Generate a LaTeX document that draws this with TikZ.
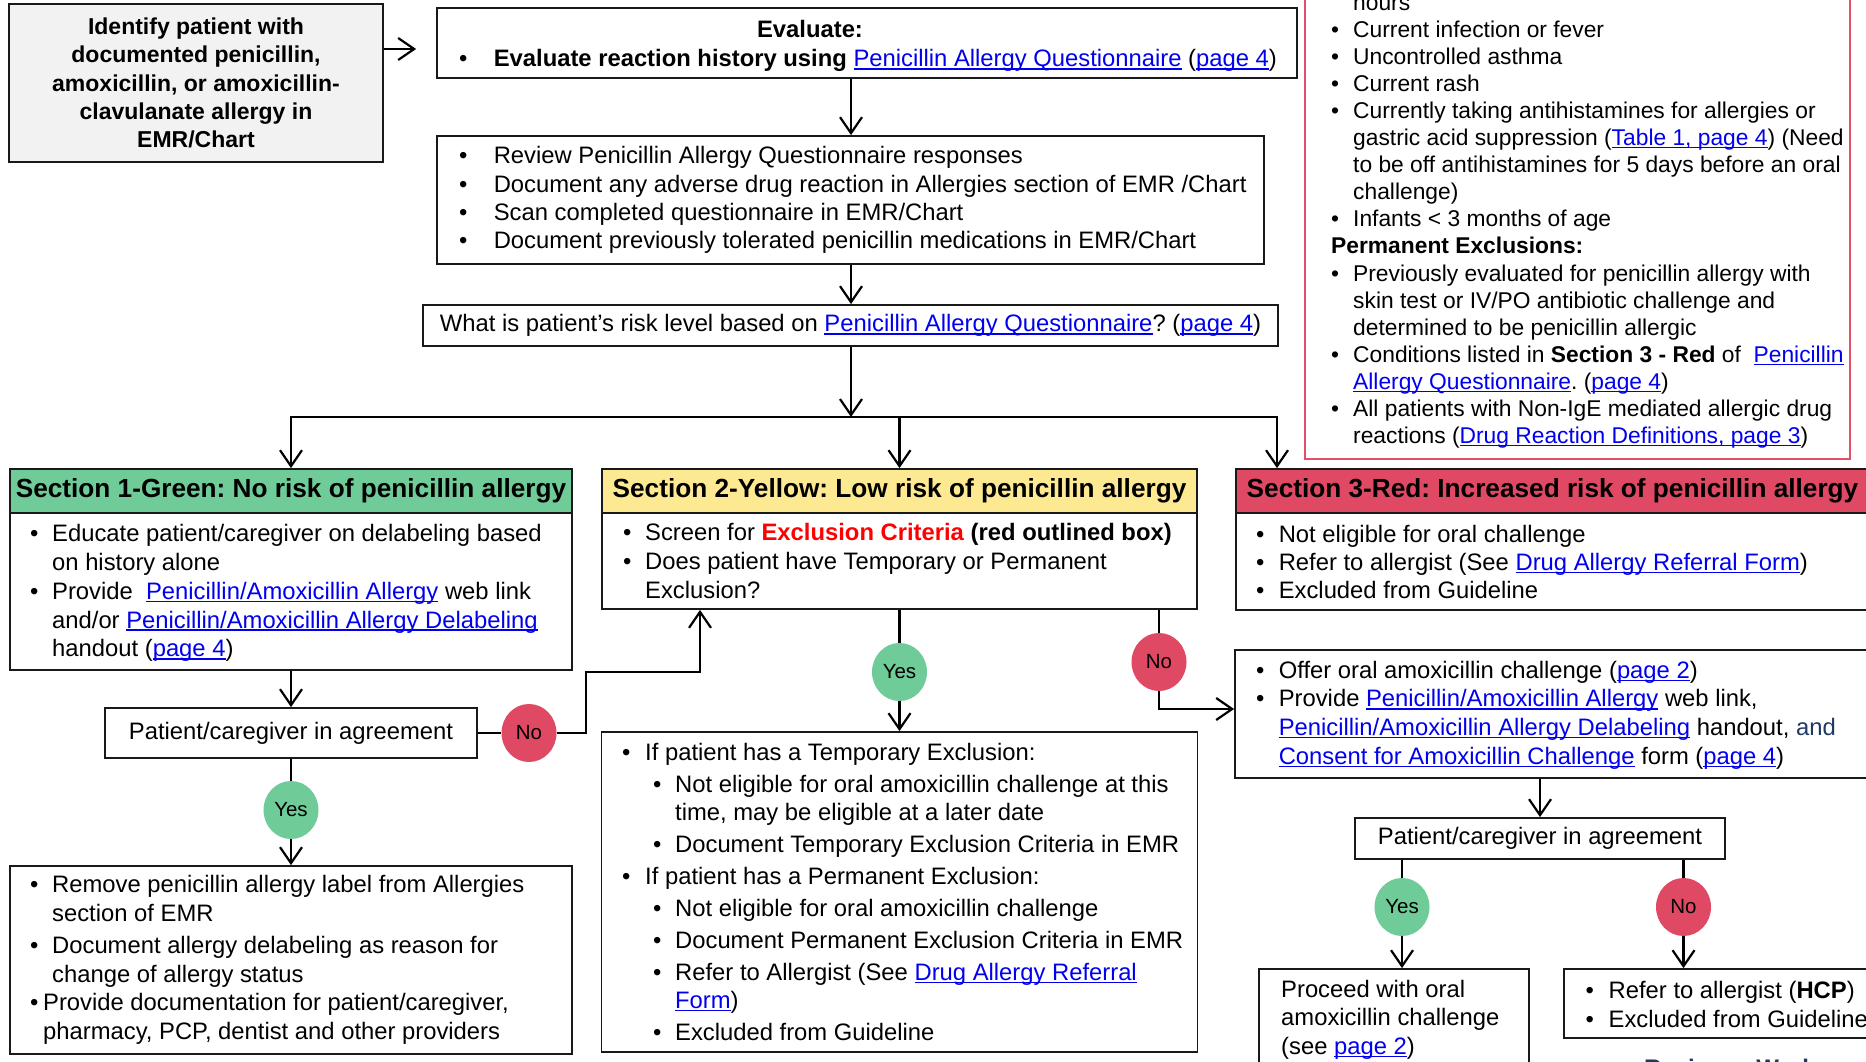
\documentclass[tikz,border=0pt]{standalone}
\usepackage{fontspec}
\setmainfont{Liberation Sans}
\newfontfamily\narf{Liberation Sans}
\usetikzlibrary{arrows.meta,shapes.geometric}
\frenchspacing
\definecolor{lkblue}{RGB}{0,0,238}
\definecolor{grayfill}{RGB}{242,242,242}
\definecolor{greenfill}{RGB}{111,203,151}
\definecolor{yellowfill}{RGB}{253,233,145}
\definecolor{redfill}{RGB}{223,73,99}
\definecolor{exline}{RGB}{224,80,104}
\definecolor{exred}{RGB}{255,0,0}
\definecolor{navytext}{RGB}{31,56,100}
\definecolor{boxline}{RGB}{25,25,25}
\newcommand\uln[1]{\leavevmode\setbox0\hbox{#1}\rlap{\rule[-0.12em]{\wd0}{0.06em}}\box0}
\newcommand\lk[1]{\textcolor{lkblue}{\uln{#1}}}
\newcommand\bl[1]{\makebox[#1][l]{•}}
\newcommand\ind[1]{\hspace*{#1}}
\newcommand\fsz[2]{\fontsize{#1}{#2}\selectfont\frenchspacing\lineskiplimit=-100pt\lineskip=0pt}
\tikzset{
  box/.style={draw=boxline, line width=1.8pt, rectangle, inner sep=0pt},
  txt/.style={inner sep=0pt, align=left, text=black},
  conn/.style={draw=black, line width=2.2pt},
  arr/.style={conn, -{Straight Barb[length=16pt,width=22pt,line width=2.2pt]}},
  yesc/.style={ellipse, fill=greenfill, minimum width=55pt, minimum height=58pt, inner sep=0pt, font=\narf\fsz{20.5}{20.5}},
  noc/.style={ellipse, fill=redfill, minimum width=55pt, minimum height=58pt, inner sep=0pt, font=\narf\fsz{20.5}{20.5}},
  head/.style={box, minimum height=44pt, font=\narf\bfseries\fsz{26.2}{26.2}},
  body/.style={font=\narf\fsz{23.8}{#1}},
}
\begin{document}
\begin{tikzpicture}[x=1pt,y=-1pt]
\useasboundingbox (0,0) rectangle (1866,1062);
\clip (0,0) rectangle (1866,1062);
\fill[white] (0,0) rectangle (1866,1062);

% exclusion criteria box
\node[draw=exline, line width=1.6pt, rectangle, minimum width=545pt, minimum height=520pt, inner sep=0pt] (excl) at (1577.5,199) {};
\node[txt, anchor=west, font=\fsz{22.8}{27.06}] (exclt) at (1331,221) {%
\ind{22pt}hours\\
\bl{22pt}Current infection or fever\\
\bl{22pt}Uncontrolled asthma\\
\bl{22pt}Current rash\\
\bl{22pt}Currently taking antihistamines for allergies or\\
\ind{22pt}gastric acid suppression (\lk{Table 1, page 4}) (Need\\
\ind{22pt}to be off antihistamines for 5 days before an oral\\
\ind{22pt}challenge)\\
\bl{22pt}Infants < 3 months of age\\
\textbf{Permanent Exclusions:}\\
\bl{22pt}Previously evaluated for penicillin allergy with\\
\ind{22pt}skin test or IV/PO antibiotic challenge and\\
\ind{22pt}determined to be penicillin allergic\\
\bl{22pt}Conditions listed in \textbf{Section 3 - Red} of\ \ \lk{Penicillin}\\
\ind{22pt}\lk{Allergy Questionnaire}. (\lk{page 4})\\
\bl{22pt}All patients with Non-IgE mediated allergic drug\\
\ind{22pt}reactions (\lk{Drug Reaction Definitions, page 3})};

% top column
\node[box, fill=grayfill, minimum width=374pt, minimum height=158pt, align=center, font=\narf\bfseries\fsz{23}{28.3}] (gray) at (196,83)
  {Identify patient with\\documented penicillin,\\amoxicillin, or amoxicillin-\\clavulanate allergy in\\EMR/Chart};

\node[box, minimum width=860pt, minimum height=70pt] (eval) at (867,43) {};
\node[txt, anchor=base, font=\narf\bfseries\fsz{23.8}{23.8}] (evalT) at (810,38) {Evaluate:};
\node[txt, anchor=base west, font=\narf\fsz{23.8}{23.8}] (evalB) at (459,67)
  {\bl{34.6pt}\textbf{Evaluate reaction history using} \lk{Penicillin Allergy Questionnaire} (\lk{page 4})};

\node[box, minimum width=827pt, minimum height=128pt] (rev) at (850.5,200) {};
\node[txt, anchor=west, body=28.3] (revT) at (459,200) {%
\bl{34.6pt}Review Penicillin Allergy Questionnaire responses\\
\bl{34.6pt}Document any adverse drug reaction in Allergies section of EMR /Chart\\
\bl{34.6pt}Scan completed questionnaire in EMR/Chart\\
\bl{34.6pt}Document previously tolerated penicillin medications in EMR/Chart};

\node[box, minimum width=855pt, minimum height=41pt, body=23.8] (what) at (850.5,325.5)
  {What is patient’s risk level based on \lk{Penicillin Allergy Questionnaire}? (\lk{page 4})};

\coordinate (jm) at (851,417);
\coordinate (j1) at (291,417);
\coordinate (j3) at (1277,417);

% section 1
\node[head, fill=greenfill, minimum width=562pt] (s1h) at (291,491) {Section 1-Green: No risk of penicillin allergy};
\node[box, minimum width=562pt, minimum height=157pt] (s1b) at (291,591.5) {};
\node[txt, anchor=west, body=28.9] (s1t) at (30,593) {%
\bl{22pt}Educate patient/caregiver on delabeling based\\
\ind{22pt}on history alone\\
\bl{22pt}Provide\ \ \lk{Penicillin/Amoxicillin Allergy} web link\\
\ind{22pt}and/or \lk{Penicillin/Amoxicillin Allergy Delabeling}\\
\ind{22pt}handout (\lk{page 4})};

\node[box, minimum width=372pt, minimum height=50pt, body=23.8] (pca1) at (291,733) {Patient/caregiver in agreement};
\node[noc] (no1) at (529,733) {No};
\node[yesc] (yes1) at (291,810) {Yes};
\node[box, minimum width=562pt, minimum height=188pt] (bl) at (291,960) {};
\node[txt, anchor=west, body=28.7] (blt) at (30,960) {%
\bl{22pt}Remove penicillin allergy label from Allergies\\
\ind{22pt}section of EMR\\[3.3pt]
\bl{22pt}Document allergy delabeling as reason for\\
\ind{22pt}change of allergy status\\
\bl{13pt}Provide documentation for patient/caregiver,\\
\ind{13pt}pharmacy, PCP, dentist and other providers};

% section 2
\node[head, fill=yellowfill, minimum width=595pt] (s2h) at (899.5,491) {Section 2-Yellow: Low risk of penicillin allergy};
\node[box, minimum width=595pt, minimum height=96pt] (s2b) at (899.5,561) {};
\node[txt, anchor=west, body=29] (s2t) at (623,561) {%
\bl{22pt}Screen for \textcolor{exred}{\textbf{Exclusion Criteria}} \textbf{(red outlined box)}\\
\bl{22pt}Does patient have Temporary or Permanent\\
\ind{22pt}Exclusion?};

\node[yesc] (yes2) at (899.5,672) {Yes};
\node[noc] (no2) at (1159,662) {No};
\node[box, minimum width=596pt, minimum height=320pt] (yb) at (899.5,892) {};
\node[txt, anchor=west, body=28] (ybt) at (622,892) {%
\bl{23pt}If patient has a Temporary Exclusion:\\[3.9pt]
\ind{31pt}\bl{22pt}Not eligible for oral amoxicillin challenge at this\\
\ind{53pt}time, may be eligible at a later date\\[3.9pt]
\ind{31pt}\bl{22pt}Document Temporary Exclusion Criteria in EMR\\[3.9pt]
\bl{23pt}If patient has a Permanent Exclusion:\\[3.9pt]
\ind{31pt}\bl{22pt}Not eligible for oral amoxicillin challenge\\[3.9pt]
\ind{31pt}\bl{22pt}Document Permanent Exclusion Criteria in EMR\\[3.9pt]
\ind{31pt}\bl{22pt}Refer to Allergist (See \lk{Drug Allergy Referral}\\
\ind{53pt}\lk{Form})\\[3.9pt]
\ind{31pt}\bl{22pt}Excluded from Guideline};

% section 3
\node[head, fill=redfill, minimum width=633pt] (s3h) at (1552.5,491) {Section 3-Red: Increased risk of penicillin allergy};
\node[box, minimum width=633pt, minimum height=97pt] (s3b) at (1552.5,561.5) {};
\node[txt, anchor=west, body=28.3] (s3t) at (1256,562) {%
\bl{22.6pt}Not eligible for oral challenge\\
\bl{22.6pt}Refer to allergist (See \lk{Drug Allergy Referral Form})\\
\bl{22.6pt}Excluded from Guideline};

\node[box, minimum width=634pt, minimum height=128pt] (offer) at (1552,714) {};
\node[txt, anchor=west, body=28.7] (offert) at (1256,715) {%
\bl{22.6pt}Offer oral amoxicillin challenge (\lk{page 2})\\
\bl{22.6pt}Provide \lk{Penicillin/Amoxicillin Allergy} web link,\\
\ind{22.6pt}\lk{Penicillin/Amoxicillin Allergy Delabeling} handout, \textcolor{navytext}{and}\\
\ind{22.6pt}\lk{Consent for Amoxicillin Challenge} form (\lk{page 4})};

\node[box, minimum width=370pt, minimum height=41pt, body=23.8] (pca2) at (1540,838.5) {Patient/caregiver in agreement};
\node[yesc] (yes3) at (1402,907) {Yes};
\node[noc] (no3) at (1683.5,907) {No};
\node[box, minimum width=270pt, minimum height=106pt] (proc) at (1394,1022) {};
\node[txt, anchor=west, body=28.5] (proct) at (1281,1019.5) {%
Proceed with oral\\amoxicillin challenge\\(see \lk{page 2})};
\node[box, minimum width=305pt, minimum height=69pt] (ref) at (1716.5,1003.5) {};
\node[txt, anchor=west, body=29] (reft) at (1585.5,1004.5) {%
\bl{23pt}Refer to allergist (\textbf{HCP})\\
\bl{23pt}Excluded from Guideline};
\node[anchor=north west, inner sep=0pt, font=\bfseries\fsz{24}{24}, text=navytext] (work) at (1644,1059) {Reviewer Workgroup};

% connectors
\coordinate (k1) at (586,672);
\coordinate (k2) at (700,672);
\coordinate (k3) at (1159,709);
\draw[arr, shorten >=20pt] ([yshift=34pt]gray.east) -- ([yshift=34pt]gray.east -| eval.west);
\draw[arr] (eval.south -| jm) -- (rev.north -| jm);
\draw[arr] (rev.south -| jm) -- (what.north -| jm);
\draw[arr] (what.south -| jm) -- (jm);
\draw[conn, line cap=rect] (j1) -- (j3);
\draw[arr] (j1) -- (s1h.north);
\draw[arr] (j1 -| s2h.north) -- (s2h.north);
\draw[arr] (j3) -- (j3 |- s3h.north);
\draw[arr] (s1b) -- (pca1);
\draw[conn] (pca1) -- (no1);
\draw[arr] (no1.east) -- (no1.east -| k1) -- (k1) -- (k2) -- (k2 |- s2b.south);
\draw[conn] (pca1) -- (yes1);
\draw[arr] (yes1) -- (bl);
\draw[conn] (s2b) -- (yes2);
\draw[arr] (yes2) -- (yb);
\draw[conn] (s2b.south -| no2) -- (no2);
\draw[arr] (no2) -- (k3) -- (k3 -| offer.west);
\draw[arr] (offer.south -| pca2) -- (pca2);
\draw[conn] (pca2.south -| yes3) -- (yes3);
\draw[arr] (yes3) -- (yes3 |- proc.north);
\draw[conn] (pca2.south -| no3) -- (no3);
\draw[arr] (no3) -- (no3 |- ref.north);
\end{tikzpicture}
\end{document}
